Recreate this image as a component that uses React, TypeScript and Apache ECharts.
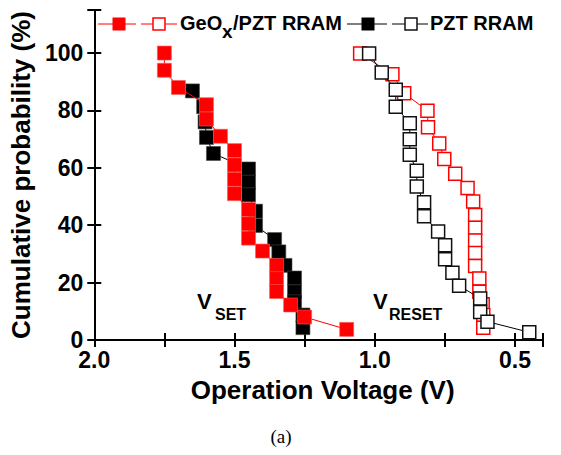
import React, { useEffect, useRef } from 'react';
import * as echarts from 'echarts';

// GeOx/PZT RRAM, SET (filled red)
const gexSetV = [1.75, 1.75, 1.70, 1.60, 1.60, 1.55, 1.50, 1.50, 1.50, 1.50, 1.45, 1.45, 1.45, 1.40, 1.35, 1.35, 1.35, 1.30, 1.25, 1.10];
const gexSetP = [100, 94, 88, 82, 77, 71, 66, 61, 56, 51, 45.5, 40.5, 35.5, 31, 26, 21.4, 16.9, 12.2, 8, 3.7];
// GeOx/PZT RRAM, RESET (hollow red)
const gexResetV = [1.052, 0.937, 0.895, 0.812, 0.81, 0.77, 0.752, 0.713, 0.669, 0.649, 0.642, 0.642, 0.642, 0.642, 0.642, 0.627, 0.627, 0.615, 0.613, 0.613];
const gexResetP = [99.8, 92.6, 86.0, 79.9, 74.1, 68.5, 63.1, 57.9, 53.0, 48.3, 43.6, 39.1, 34.7, 30.3, 25.8, 21.4, 16.8, 12.5, 8.7, 4.3];
// PZT RRAM, SET (filled black)
const pztSetV = [1.65, 1.61, 1.605, 1.60, 1.575, 1.45, 1.45, 1.45, 1.425, 1.425, 1.357, 1.342, 1.32, 1.286, 1.286, 1.286, 1.256, 1.256];
const pztSetP = [86.8, 81.3, 76, 70.6, 65, 59.6, 55, 50.6, 44.9, 39.9, 35, 30.7, 26, 21.6, 16.8, 13.3, 8.7, 4.3];
// PZT RRAM, RESET (hollow black)
const pztResetV = [1.02, 0.975, 0.925, 0.925, 0.875, 0.875, 0.875, 0.85, 0.85, 0.824, 0.824, 0.774, 0.749, 0.749, 0.723, 0.699, 0.624, 0.624, 0.598, 0.449];
const pztResetP = [99.8, 93.2, 87.2, 81.3, 75.5, 70.0, 64.6, 59.0, 53.5, 48.0, 43.1, 37.8, 33.0, 28.1, 23.4, 18.9, 14.5, 9.8, 6.4, 2.7];

const xLabels = ['2.0', '1.5', '1.0', '0.5'];
const yLabels = ['0', '20', '40', '60', '80', '100'];

const FONT = '"Liberation Sans", Arial, Helvetica, sans-serif';
const RED = '#ff0000';

const zip = (v: number[], p: number[]) => v.map((x, i) => [x, p[i]]);

export default function App() {
  const ref = useRef<HTMLDivElement>(null);
  useEffect(() => {
    document.body.style.margin = '0';
    const chart = echarts.init(ref.current!, null, { renderer: 'svg' });
    const tickAxisBase = {
      type: 'value',
      min: 0,
      max: 1.6,
      interval: 0.25,
      splitLine: { show: false },
      axisLine: { show: true, lineStyle: { color: '#000', width: 2 } },
      axisTick: { show: true, inside: true, length: 7, lineStyle: { color: '#000', width: 2 } },
    };
    const xFmt = (v: number) => {
      const V = 2.0 - v;
      const s = V.toFixed(1);
      return Math.abs(V * 2 - Math.round(V * 2)) < 1e-6 && xLabels.includes(s) ? s : '';
    };
    const yFmt = (v: number) => (yLabels.includes(String(v)) ? String(v) : '');
    const option: any = {
      animation: false,
      grid: { left: 94, top: 10, right: 18, bottom: 115 },
      xAxis: [
        {
          ...tickAxisBase,
          position: 'bottom',
          axisLabel: { formatter: xFmt, fontSize: 23, fontWeight: 'bold', fontFamily: FONT, color: '#000', margin: 8 },
          name: 'Operation Voltage (V)',
          nameLocation: 'middle',
          nameGap: 37,
          nameTextStyle: { fontSize: 26, fontWeight: 'bold', fontFamily: FONT, color: '#000', padding: [0, 0, 0, 8] },
        },
        {
          ...tickAxisBase,
          position: 'top',
          axisLabel: { show: false },
        },
        {
          type: 'value',
          min: 0.4,
          max: 2.0,
          inverse: true,
          show: false,
          splitLine: { show: false },
        },
      ],
      yAxis: [
        {
          type: 'value',
          min: 0,
          max: 115,
          interval: 20,
          position: 'left',
          splitLine: { show: false },
          axisLine: { show: true, lineStyle: { color: '#000', width: 2 } },
          axisTick: { show: true, inside: true, length: 7, lineStyle: { color: '#000', width: 2 } },
          axisLabel: { formatter: yFmt, fontSize: 23, fontWeight: 'bold', fontFamily: FONT, color: '#000', margin: 11 },
          name: 'Cumulative probability (%)',
          nameLocation: 'middle',
          nameGap: 55,
          nameTextStyle: { fontSize: 26, fontWeight: 'bold', fontFamily: FONT, color: '#000' },
        },
        {
          type: 'value',
          min: 0,
          max: 115,
          interval: 20,
          position: 'right',
          splitLine: { show: false },
          axisLine: { show: true, lineStyle: { color: '#000', width: 2 } },
          axisTick: { show: true, inside: true, length: 7, lineStyle: { color: '#000', width: 2 } },
          axisLabel: { show: false },
        },
      ],
      series: [
        {
          type: 'line', name: 'PZT RRAM SET', xAxisIndex: 2, yAxisIndex: 0,
          data: zip(pztSetV, pztSetP), symbol: 'rect', symbolSize: 14,
          lineStyle: { color: '#000', width: 1 },
          itemStyle: { color: '#000', borderColor: '#444', borderWidth: 0.6 },
          z: 2,
        },
        {
          type: 'line', name: 'GeOx/PZT RRAM SET', xAxisIndex: 2, yAxisIndex: 0,
          data: zip(gexSetV, gexSetP), symbol: 'rect', symbolSize: 14,
          lineStyle: { color: RED, width: 1 },
          itemStyle: { color: RED, borderColor: '#ff5555', borderWidth: 0.6 },
          z: 3,
        },
        {
          type: 'line', name: 'GeOx/PZT RRAM RESET', xAxisIndex: 2, yAxisIndex: 0,
          data: zip(gexResetV, gexResetP), symbol: 'rect', symbolSize: 13,
          lineStyle: { color: RED, width: 1 },
          itemStyle: { color: '#fff', borderColor: RED, borderWidth: 1.5 },
          z: 4,
        },
        {
          type: 'line', name: 'PZT RRAM RESET', xAxisIndex: 2, yAxisIndex: 0,
          data: zip(pztResetV, pztResetP), symbol: 'rect', symbolSize: 13,
          lineStyle: { color: '#000', width: 1 },
          itemStyle: { color: '#fff', borderColor: '#111', borderWidth: 1.5 },
          z: 5,
        },
      ],
      graphic: [
        // legend
        { type: 'line', shape: { x1: 98, y1: 24, x2: 136, y2: 24 }, style: { stroke: RED, lineWidth: 1 }, z: 10 },
        { type: 'rect', shape: { x: 112.5, y: 17.5, width: 13, height: 13 }, style: { fill: RED }, z: 11 },
        { type: 'line', shape: { x1: 141, y1: 24, x2: 177, y2: 24 }, style: { stroke: RED, lineWidth: 1 }, z: 10 },
        { type: 'rect', shape: { x: 153, y: 18, width: 12, height: 12 }, style: { fill: '#fff', stroke: RED, lineWidth: 1.5 }, z: 11 },
        { type: 'text', x: 180, y: 23, style: { text: 'GeO', font: `bold 20px ${FONT}`, fill: '#000', textAlign: 'left', textVerticalAlign: 'middle' }, z: 11 },
        { type: 'text', x: 222, y: 31, style: { text: 'x', font: `bold 19px ${FONT}`, fill: '#000', textAlign: 'left', textVerticalAlign: 'middle' }, z: 11 },
        { type: 'text', x: 233, y: 23, style: { text: '/PZT RRAM', font: `bold 20px ${FONT}`, fill: '#000', textAlign: 'left', textVerticalAlign: 'middle' }, z: 11 },
        { type: 'line', shape: { x1: 347, y1: 24, x2: 387, y2: 24 }, style: { stroke: '#000', lineWidth: 1 }, z: 10 },
        { type: 'rect', shape: { x: 361.5, y: 17.5, width: 13, height: 13 }, style: { fill: '#000' }, z: 11 },
        { type: 'line', shape: { x1: 392, y1: 24, x2: 428, y2: 24 }, style: { stroke: '#000', lineWidth: 1 }, z: 10 },
        { type: 'rect', shape: { x: 405, y: 18, width: 12, height: 12 }, style: { fill: '#fff', stroke: '#111', lineWidth: 1.5 }, z: 11 },
        { type: 'text', x: 430, y: 23, style: { text: 'PZT RRAM', font: `bold 20px ${FONT}`, fill: '#000', textAlign: 'left', textVerticalAlign: 'middle' }, z: 11 },
        // annotations
        { type: 'text', x: 197, y: 301, style: { text: 'V', font: `bold 22px ${FONT}`, fill: '#000', textAlign: 'left', textVerticalAlign: 'middle' }, z: 11 },
        { type: 'text', x: 215, y: 314, style: { text: 'SET', font: `bold 16px ${FONT}`, fill: '#000', textAlign: 'left', textVerticalAlign: 'middle' }, z: 11 },
        { type: 'text', x: 373, y: 301, style: { text: 'V', font: `bold 22px ${FONT}`, fill: '#000', textAlign: 'left', textVerticalAlign: 'middle' }, z: 11 },
        { type: 'text', x: 389, y: 314, style: { text: 'RESET', font: `bold 16px ${FONT}`, fill: '#000', textAlign: 'left', textVerticalAlign: 'middle' }, z: 11 },
        // caption
        { type: 'text', x: 281, y: 436, style: { text: '(a)', font: `19px "Liberation Serif", "Times New Roman", serif`, fill: '#000', textAlign: 'center', textVerticalAlign: 'middle' }, z: 11 },
      ],
    };
    chart.setOption(option);
    return () => chart.dispose();
  }, []);
  return <div ref={ref} style={{ width: 561, height: 455 }} />;
}
